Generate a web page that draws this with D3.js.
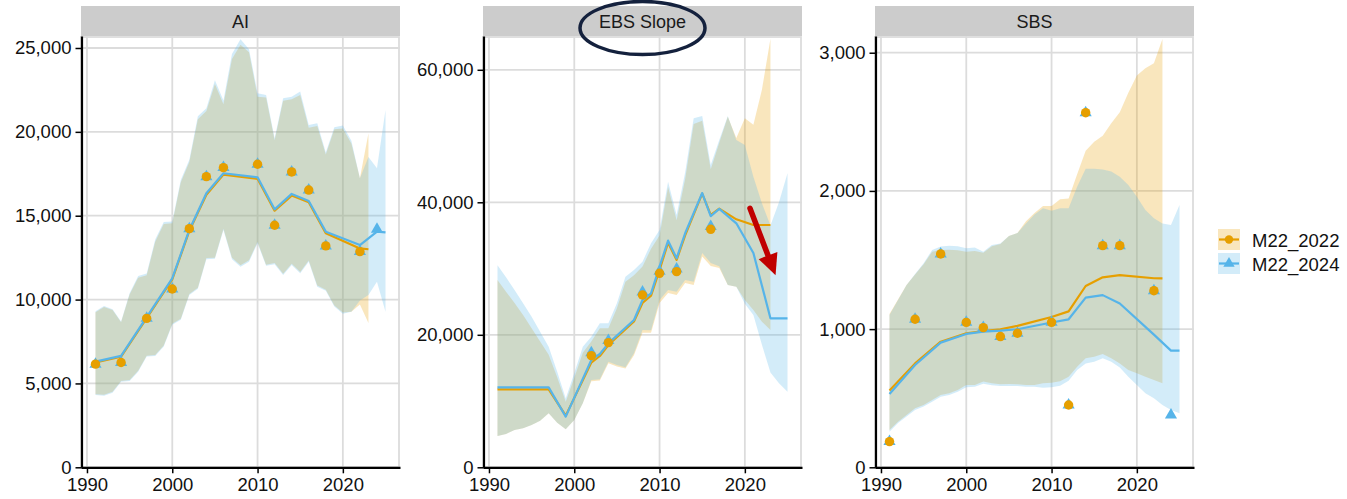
<!DOCTYPE html>
<html>
<head>
<meta charset="utf-8">
<script src="https://cdn.jsdelivr.net/npm/d3@7"></script>
<style>
  body { margin: 0; background: #fff; }
  svg { display: block; font-family: "Liberation Sans", Arial, sans-serif; }
</style>
</head>
<body>
<svg width="1347" height="499"></svg>
<script>
// ---- data ----
const modelYears = [1991, 1992, 1993, 1994, 1995, 1996, 1997, 1998, 1999, 2000,
                    2001, 2002, 2003, 2004, 2005, 2006, 2007, 2008, 2009, 2010,
                    2011, 2012, 2013, 2014, 2015, 2016, 2017, 2018, 2019, 2020,
                    2021, 2022, 2023, 2024, 2025];
const modelYears22 = modelYears.slice(0, 33); // M22_2022 runs to 2023

const seriesNames = ["M22_2022", "M22_2024"];
const xTicks = [1990, 2000, 2010, 2020];

// AI
const aiSurveyYears = [1991, 1994, 1997, 2000, 2002, 2004, 2006, 2010, 2012, 2014, 2016, 2018, 2022];
const aiObs22 = [6150, 6250, 8880, 10630, 14230, 17330, 17870, 18070, 14430, 17610, 16530, 13200, 12860];
const aiObsYears24 = [1991, 1994, 1997, 2000, 2002, 2004, 2006, 2010, 2012, 2014, 2016, 2018, 2022, 2024];
const aiObs24 = [6150, 6250, 8880, 10630, 14230, 17330, 17870, 18070, 14430, 17610, 16530, 13200, 12860, 14200];
const aiEstYears22 = [1991, 1994, 1997, 2000, 2002, 2004, 2006, 2010, 2012, 2014, 2016, 2018, 2022, 2023];
const aiEst22 = [6250, 6600, 8900, 11200, 14100, 16250, 17450, 17200, 15300, 16200, 15800, 13950, 13050, 13000];
const aiEstYears24 = [1991, 1994, 1997, 2000, 2002, 2004, 2006, 2010, 2012, 2014, 2016, 2018, 2022, 2024, 2025];
const aiEst24 = [6300, 6640, 8950, 11270, 14150, 16340, 17530, 17290, 15380, 16300, 15880, 14050, 13250, 14050, 14010];
const aiHi22 = [9250, 9560, 9380, 8650, 10300, 11300, 11450, 13450, 14500, 14550,
                17000, 18200, 20750, 21250, 22850, 21650, 24350, 25190, 24750, 22100,
                22050, 19500, 21850, 21950, 22200, 20250, 20350, 18650, 20150, 20200,
                19300, 17230, 19910];
const aiLo22 = [4350, 4320, 4500, 5150, 5200, 5760, 6650, 6700, 7260, 8560,
                8860, 10330, 10700, 12480, 12500, 14220, 12500, 12050, 12350, 13430,
                12080, 12180, 11540, 12130, 11640, 12330, 10840, 10590, 9650, 9230,
                9280, 9700, 8600];
const aiHi24 = [9300, 9620, 9420, 8690, 10380, 11400, 11550, 13580, 14620, 14650,
                17130, 18340, 20930, 21400, 23070, 21870, 24640, 25520, 24930, 22300,
                22200, 19620, 22000, 22100, 22400, 20410, 20510, 18770, 20280, 20380,
                19470, 17230, 18500, 17830, 21300];
const aiLo24 = [4310, 4270, 4450, 5100, 5150, 5700, 6600, 6640, 7200, 8500,
                8800, 10270, 10640, 12410, 12430, 14150, 12410, 11960, 12260, 13360,
                12010, 12110, 11470, 12060, 11570, 12260, 10770, 10520, 9580, 9150,
                9280, 9950, 10270, 11060, 9280];
const aiTicks = [0, 5000, 10000, 15000, 20000, 25000];

// EBS Slope
const ebsSurveyYears = [2002, 2004, 2008, 2010, 2012, 2016];
const ebsObs22 = [16850, 18820, 26010, 29280, 29530, 35920];
const ebsObsYears24 = [2002, 2004, 2008, 2010, 2012, 2016];
const ebsObs24 = [17300, 19150, 26450, 29600, 29950, 36350];
const ebsEstYears22 = [1991, 1997, 1999, 2002, 2003, 2004, 2007, 2008, 2009, 2010, 2011, 2012, 2013, 2015, 2016, 2017, 2019, 2021, 2023];
const ebsEst22 = [11770, 11770, 7800, 15800, 16800, 18460, 22000, 24800, 25900, 29800, 33900, 31300, 35000, 41300, 38100, 39050, 37430, 36570, 36570];
const ebsEstYears24 = [1991, 1997, 1999, 2002, 2003, 2004, 2007, 2008, 2009, 2010, 2011, 2012, 2013, 2015, 2016, 2017, 2019, 2021, 2023, 2025];
const ebsEst24 = [12070, 12070, 7650, 16200, 17100, 18700, 22240, 25250, 26260, 30290, 34210, 31550, 35320, 41400, 37900, 39000, 36830, 32350, 22490, 22490];
const ebsHi22 = [28270, 26500, 24800, 23000, 21000, 19000, 17000, 13600, 9900, 13500,
                 17300, 19000, 21000, 21000, 24000, 28000, 29000, 30300, 33000, 35000,
                 42300, 37300, 43500, 51800, 52300, 45000, 49000, 52900, 49700, 52700,
                 51700, 57000, 64700];
const ebsLo22 = [4725, 5030, 5630, 5890, 6385, 7040, 8150, 6730, 5736, 7140,
                 9660, 13000, 13100, 15700, 15200, 14900, 16900, 20300, 20300, 24800,
                 26300, 26000, 27800, 27500, 31800, 30400, 30100, 27520, 27270, 25250,
                 23740, 21980, 20720];
const ebsHi24 = [30500, 28680, 26760, 24760, 22740, 20470, 18200, 14430, 10400, 14190,
                 18200, 19700, 21740, 21740, 24750, 28770, 29780, 31040, 33810, 35820,
                 43110, 38080, 44500, 52680, 53020, 45630, 49400, 53020, 49400, 48650,
                 43860, 39850, 36500, 40000, 44400];
const ebsLo24 = [4725, 5030, 5630, 5890, 6385, 7040, 8150, 6730, 5736, 7140,
                 9660, 13180, 13280, 15940, 15440, 15090, 17200, 20725, 20700, 25250,
                 26760, 26500, 28270, 28000, 32350, 30840, 30340, 27520, 27270, 24700,
                 23000, 18500, 14300, 12700, 11400];
const ebsTicks = [0, 20000, 40000, 60000];

// SBS
const sbsSurveyYears = [1991, 1994, 1997, 2000, 2002, 2004, 2006, 2010, 2012, 2014, 2016, 2018, 2022];
const sbsObs22 = [186, 1071, 1544, 1049, 1011, 946, 970, 1049, 451, 2566, 1604, 1604, 1278];
const sbsObsYears24 = [1991, 1994, 1997, 2000, 2002, 2004, 2006, 2010, 2012, 2014, 2016, 2018, 2022, 2024];
const sbsObs24 = [186, 1071, 1544, 1049, 1011, 946, 970, 1049, 451, 2566, 1604, 1604, 1278, 379];
const sbsEstYears22 = [1991, 1994, 1997, 2000, 2002, 2004, 2006, 2010, 2012, 2014, 2016, 2018, 2022, 2023];
const sbsEst22 = [555, 752, 909, 970, 986, 999, 1023, 1088, 1128, 1312, 1375, 1390, 1368, 1367];
const sbsEstYears24 = [1991, 1994, 1997, 2000, 2002, 2004, 2006, 2010, 2012, 2014, 2016, 2018, 2022, 2024, 2025];
const sbsEst24 = [531, 740, 902, 965, 982, 989, 999, 1048, 1071, 1228, 1246, 1185, 960, 844, 844];
const sbsHi22 = [1110, 1215, 1320, 1395, 1470, 1560, 1572, 1575, 1570, 1560,
                 1565, 1553, 1600, 1615, 1674, 1695, 1780, 1840, 1891, 1891,
                 1939, 1946, 2120, 2290, 2355, 2400, 2489, 2570, 2710, 2835,
                 2887, 2923, 3100];
const sbsLo22 = [270, 330, 378, 427, 451, 487, 523, 535, 559, 596,
                 596, 620, 608, 601, 603, 601, 596, 596, 608, 612,
                 622, 656, 728, 789, 800, 820, 789, 752, 704, 680,
                 656, 632, 608];
const sbsHi24 = [1102, 1211, 1319, 1399, 1477, 1572, 1597, 1604, 1600, 1585,
                 1590, 1560, 1609, 1620, 1674, 1695, 1765, 1830, 1874, 1857,
                 1874, 1874, 2030, 2160, 2160, 2155, 2140, 2103, 2043, 1958,
                 1862, 1802, 1765, 1753, 1898];
const sbsLo24 = [257, 320, 368, 415, 440, 475, 510, 523, 547, 580,
                 582, 605, 593, 588, 588, 588, 583, 582, 575, 580,
                 590, 627, 704, 752, 764, 789, 764, 723, 656, 596,
                 535, 499, 451, 415, 391];
const sbsTicks = [0, 1000, 2000, 3000];

// annotation: arrow on the EBS Slope panel, in data units [year, biomass]
const arrowFrom = [2020.6, 39100];
const arrowTo = [2023.6, 29000];

// ---- drawing ----
const ORANGE = "#E69F00";
const BLUE = "#56B4E9";
const RIBBON_ALPHA = 0.26;

const attr_area = {
    stripTop: 6,
    top: 36,
    bottom: 467.3,
    width: 319,
    xDomain: [1989.3, 2026.7]
};

function zip(xs, ...cols) {
    return xs.map((x, i) => [x, ...cols.map(c => c[i])]);
}

function trianglePath(s) {
    return `M0,${-1.555 * s}L${1.347 * s},${0.778 * s}L${-1.347 * s},${0.778 * s}Z`;
}

function drawPanel(svg, p) {
    const g = svg.append("g").attr("transform", `translate(${p.left},0)`);

    const scX = d3.scaleLinear().domain(attr_area.xDomain).range([0, attr_area.width]);
    const scY = d3.scaleLinear().domain([0, p.yMax]).range([attr_area.bottom, attr_area.top]);

    // strip
    g.append("rect")
        .attr("x", 0).attr("y", attr_area.stripTop)
        .attr("width", attr_area.width).attr("height", attr_area.top - attr_area.stripTop)
        .attr("fill", "#cccccc");
    g.append("text")
        .attr("x", attr_area.width / 2)
        .attr("y", (attr_area.stripTop + attr_area.top) / 2 + 1)
        .attr("text-anchor", "middle")
        .attr("dominant-baseline", "central")
        .style("font-size", "18px")
        .style("fill", "#1a1a1a")
        .text(p.title);

    // grid
    g.selectAll(".gy").data(p.yTicks).enter().append("line")
        .attr("x1", 0).attr("x2", attr_area.width)
        .attr("y1", d => scY(d)).attr("y2", d => scY(d))
        .attr("stroke", "#dcdcdc").attr("stroke-width", 1.8);
    g.selectAll(".gx").data(xTicks).enter().append("line")
        .attr("x1", d => scX(d)).attr("x2", d => scX(d))
        .attr("y1", attr_area.top).attr("y2", attr_area.bottom)
        .attr("stroke", "#dcdcdc").attr("stroke-width", 1.8);
    g.append("rect")
        .attr("x", 0).attr("y", attr_area.top + 1)
        .attr("width", attr_area.width - 1).attr("height", attr_area.bottom - attr_area.top - 1)
        .attr("fill", "none").attr("stroke", "#dcdcdc").attr("stroke-width", 1.8);

    // ribbons
    const ribbon = d3.area()
        .x(d => scX(d[0]))
        .y0(d => scY(d[1]))
        .y1(d => scY(d[2]));
    g.append("path")
        .datum(zip(modelYears22, p.lo22, p.hi22))
        .attr("d", ribbon)
        .attr("fill", ORANGE).attr("fill-opacity", RIBBON_ALPHA);
    g.append("path")
        .datum(zip(modelYears, p.lo24, p.hi24))
        .attr("d", ribbon)
        .attr("fill", BLUE).attr("fill-opacity", RIBBON_ALPHA);

    // estimate lines
    const line = d3.line().x(d => scX(d[0])).y(d => scY(d[1]));
    g.append("path")
        .datum(zip(p.estYears22, p.est22))
        .attr("d", line)
        .attr("fill", "none").attr("stroke", ORANGE).attr("stroke-width", 2.2)
        .attr("stroke-linejoin", "round");
    g.append("path")
        .datum(zip(p.estYears24, p.est24))
        .attr("d", line)
        .attr("fill", "none").attr("stroke", BLUE).attr("stroke-width", 2.2)
        .attr("stroke-linejoin", "round");

    // observations: triangles (M22_2024) under circles (M22_2022)
    g.selectAll(".tri")
        .data(zip(p.obsYears24, p.obs24))
        .enter()
        .append("path")
        .attr("d", trianglePath(4.5))
        .attr("transform", d => `translate(${scX(d[0])},${scY(d[1])})`)
        .attr("fill", BLUE);
    g.selectAll(".dot")
        .data(zip(p.obsYears22, p.obs22))
        .enter()
        .append("circle")
        .attr("r", 4.7)
        .attr("cx", d => scX(d[0]))
        .attr("cy", d => scY(d[1]))
        .attr("fill", ORANGE);

    // axes
    const axisY = d3.axisLeft(scY)
        .tickValues(p.yTicks)
        .tickFormat(d3.format(","))
        .tickSize(6).tickSizeOuter(0).tickPadding(4);
    const gy = g.append("g").attr("transform", "translate(0.5,0)").call(axisY);

    const axisX = d3.axisBottom(scX)
        .tickValues(xTicks)
        .tickFormat(d3.format("d"))
        .tickSize(6).tickSizeOuter(0).tickPadding(5);
    const gx = g.append("g").attr("transform", `translate(0,${attr_area.bottom})`).call(axisX);

    [gx, gy].forEach(a => {
        a.select(".domain").attr("stroke", "#000").attr("stroke-width", 2.2);
        a.selectAll(".tick line").attr("stroke", "#000").attr("stroke-width", 1.5);
        a.selectAll(".tick text")
            .style("font-size", "18.5px")
            .style("font-family", "'Liberation Sans', Arial, sans-serif")
            .attr("fill", "#111");
    });

    return { g, scX, scY };
}

const svg = d3.select("svg");

drawPanel(svg, {
    title: "AI", left: 81, yMax: 25715, yTicks: aiTicks,
    lo22: aiLo22, hi22: aiHi22, lo24: aiLo24, hi24: aiHi24,
    estYears22: aiEstYears22, est22: aiEst22, estYears24: aiEstYears24, est24: aiEst24,
    obsYears22: aiSurveyYears, obs22: aiObs22, obsYears24: aiObsYears24, obs24: aiObs24
});

const ebs = drawPanel(svg, {
    title: "EBS Slope", left: 483, yMax: 65100, yTicks: ebsTicks,
    lo22: ebsLo22, hi22: ebsHi22, lo24: ebsLo24, hi24: ebsHi24,
    estYears22: ebsEstYears22, est22: ebsEst22, estYears24: ebsEstYears24, est24: ebsEst24,
    obsYears22: ebsSurveyYears, obs22: ebsObs22, obsYears24: ebsObsYears24, obs24: ebsObs24
});

drawPanel(svg, {
    title: "SBS", left: 875, yMax: 3121, yTicks: sbsTicks,
    lo22: sbsLo22, hi22: sbsHi22, lo24: sbsLo24, hi24: sbsHi24,
    estYears22: sbsEstYears22, est22: sbsEst22, estYears24: sbsEstYears24, est24: sbsEst24,
    obsYears22: sbsSurveyYears, obs22: sbsObs22, obsYears24: sbsObsYears24, obs24: sbsObs24
});

// ellipse around the EBS Slope strip label
ebs.g.append("ellipse")
    .attr("cx", attr_area.width / 2)
    .attr("cy", 28)
    .attr("rx", 62.5)
    .attr("ry", 26.5)
    .attr("fill", "none")
    .attr("stroke", "#14213d")
    .attr("stroke-width", 3.5);

// red arrow
{
    const x1 = ebs.scX(arrowFrom[0]), y1 = ebs.scY(arrowFrom[1]);
    const x2 = ebs.scX(arrowTo[0]), y2 = ebs.scY(arrowTo[1]);
    const len = Math.hypot(x2 - x1, y2 - y1);
    const ux = (x2 - x1) / len, uy = (y2 - y1) / len;
    const headLen = 21, headHalf = 10;
    const bx = x2 - ux * headLen, by = y2 - uy * headLen;
    ebs.g.append("line")
        .attr("x1", x1).attr("y1", y1)
        .attr("x2", bx + ux * 2).attr("y2", by + uy * 2)
        .attr("stroke", "#c00000").attr("stroke-width", 5.5)
        .attr("stroke-linecap", "round");
    ebs.g.append("path")
        .attr("d", `M${x2},${y2}L${bx - uy * headHalf},${by + ux * headHalf}L${bx + uy * headHalf},${by - ux * headHalf}Z`)
        .attr("fill", "#c00000");
}

// legend
const legend = svg.append("g").attr("transform", "translate(1218,229)");
const keyW = 22, keyH = 21, keyGap = 24;
seriesNames.forEach((name, i) => {
    const color = i === 0 ? ORANGE : BLUE;
    const k = legend.append("g").attr("transform", `translate(0,${i * keyGap})`);
    k.append("rect")
        .attr("width", keyW).attr("height", keyH)
        .attr("fill", color).attr("fill-opacity", RIBBON_ALPHA);
    k.append("line")
        .attr("x1", 1).attr("x2", keyW - 1)
        .attr("y1", keyH / 2).attr("y2", keyH / 2)
        .attr("stroke", color).attr("stroke-width", 2.2);
    if (i === 0) {
        k.append("circle").attr("cx", keyW / 2).attr("cy", keyH / 2).attr("r", 4.2).attr("fill", color);
    } else {
        k.append("path").attr("d", trianglePath(4.2))
            .attr("transform", `translate(${keyW / 2},${keyH / 2})`).attr("fill", color);
    }
    k.append("text")
        .attr("x", 34).attr("y", keyH / 2 + 1)
        .attr("dominant-baseline", "central")
        .style("font-size", "18.5px")
        .style("fill", "#111")
        .text(name);
});
</script>
</body>
</html>
